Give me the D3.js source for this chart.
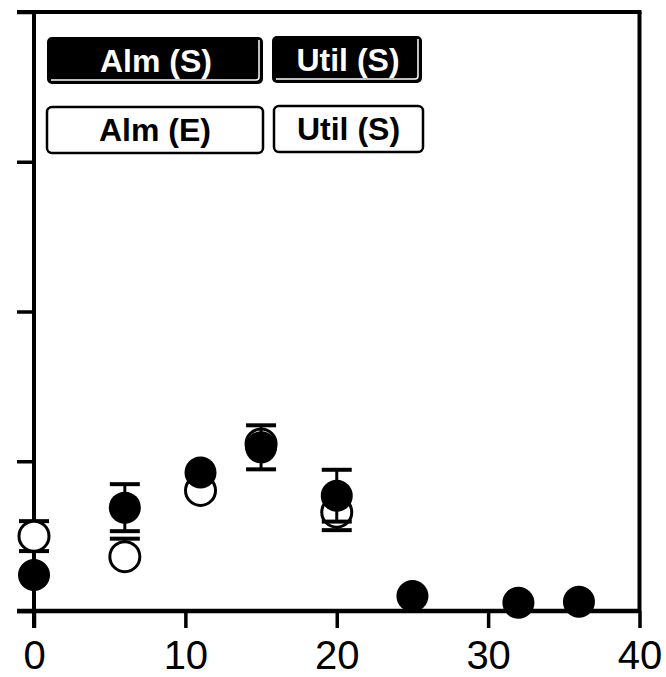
<!DOCTYPE html>
<html><head><meta charset="utf-8">
<script src="https://cdn.jsdelivr.net/npm/d3@7"></script>
<style>html,body{margin:0;padding:0;background:#fff;}svg{display:block;}</style>
</head><body>
<svg id="c" width="666" height="677"></svg>
<script>
// ---- data ----
const xTicks = [0, 10, 20, 30, 40];
const yTicks = [0, 1, 2, 3, 4];
const filledX       = [0, 6, 11, 15, 20, 25, 32, 36];
const filledY       = [0.24, 0.69, 0.925, 1.093, 0.77, 0.10, 0.055, 0.062];
const filledErrUp   = [0, 0.157, 0, 0.147, 0.173, 0, 0, 0];
const filledErrDown = [0, 0.157, 0, 0.147, 0.173, 0, 0, 0];
const openX       = [0, 6, 11, 15, 20];
const openY       = [0.50, 0.363, 0.805, 1.115, 0.66];
const openErrUp   = [0.1, 0.12, 0, 0, 0.12];
const openErrDown = [0.1, 0, 0, 0, 0.12];
const legendRow1 = ["Alm (S)", "Util (S)"];
const legendRow2 = ["Alm (E)", "Util (S)"];

const svg = d3.select("#c");
const x = d3.scaleLinear().domain([0, 40]).range([34, 639.5]);
const y = d3.scaleLinear().domain([0, 4]).range([611, 12]);
const FONT = "'Liberation Sans', Arial, Helvetica, sans-serif";

// frame (top & right)
svg.append("line").attr("x1", 17).attr("x2", x(40) + 2).attr("y1", y(4)).attr("y2", y(4))
  .attr("stroke", "#000").attr("stroke-width", 4);
svg.append("line").attr("x1", x(40)).attr("x2", x(40)).attr("y1", y(4)).attr("y2", y(0))
  .attr("stroke", "#000").attr("stroke-width", 4);

// axes
const gx = svg.append("g").attr("transform", `translate(0,${y(0)})`)
  .call(d3.axisBottom(x).tickValues(xTicks).tickSize(17).tickSizeOuter(0));
gx.select(".domain").attr("stroke-width", 4.5).attr("d", `M17,0H${x(40)}`);
gx.selectAll(".tick line").attr("stroke-width", 3.5);
gx.selectAll(".tick text").attr("font-family", FONT).attr("font-size", 40).attr("fill", "#000")
  .attr("dy", 0).attr("y", 57.5);

const gy = svg.append("g").attr("transform", `translate(${x(0)},0)`)
  .call(d3.axisLeft(y).tickValues(yTicks).tickSize(17).tickSizeOuter(0).tickFormat(""));
gy.select(".domain").attr("stroke-width", 4).attr("d", `M0,${y(4)}V${y(0) + 17}`);
gy.selectAll(".tick line").attr("stroke-width", 3.5);

// error bars + symbols
const capW = 30;
function errBars(xs, ys, up, down) {
  const g = svg.append("g").attr("stroke", "#000");
  xs.forEach((xv, i) => {
    const cx = x(xv), yc = y(ys[i]);
    if (up[i]) {
      const yy = y(ys[i] + up[i]);
      g.append("line").attr("x1", cx).attr("x2", cx).attr("y1", yc).attr("y2", yy).attr("stroke-width", 3);
      g.append("line").attr("x1", cx - capW / 2).attr("x2", cx + capW / 2).attr("y1", yy).attr("y2", yy).attr("stroke-width", 4);
    }
    if (down[i]) {
      const yy = y(ys[i] - down[i]);
      g.append("line").attr("x1", cx).attr("x2", cx).attr("y1", yc).attr("y2", yy).attr("stroke-width", 3);
      g.append("line").attr("x1", cx - capW / 2).attr("x2", cx + capW / 2).attr("y1", yy).attr("y2", yy).attr("stroke-width", 4);
    }
  });
}
// open series
errBars(openX, openY, openErrUp, openErrDown);
svg.append("g").selectAll("circle").data(openX).join("circle")
  .attr("cx", d => x(d)).attr("cy", (d, i) => y(openY[i])).attr("r", 15)
  .attr("fill", "#fff").attr("stroke", "#000").attr("stroke-width", 3);
// filled series
errBars(filledX, filledY, filledErrUp, filledErrDown);
svg.append("g").selectAll("circle").data(filledX).join("circle")
  .attr("cx", d => x(d)).attr("cy", (d, i) => y(filledY[i])).attr("r", 16)
  .attr("fill", "#000");

// legend
const boxes = [
  {x: 47, y: 37, w: 216, h: 47},
  {x: 272, y: 36, w: 150, h: 47}
];
const boxes2 = [
  {x: 47, y: 107, w: 216, h: 46},
  {x: 274, y: 106, w: 149, h: 46}
];
legendRow1.forEach((t, i) => {
  const b = boxes[i];
  svg.append("rect").attr("x", b.x).attr("y", b.y).attr("width", b.w).attr("height", b.h)
    .attr("rx", 5).attr("fill", "#000");
  svg.append("path")
    .attr("d", `M${b.x + b.w - 4},${b.y + 3}V${b.y + b.h - 7}q0,3 -3,3H${b.x + 4}`)
    .attr("fill", "none").attr("stroke", "#fff").attr("stroke-width", 1.5);
  svg.append("text").attr("x", b.x + b.w / 2 + 1).attr("y", b.y + 35)
    .attr("text-anchor", "middle").attr("font-family", FONT).attr("font-weight", "bold")
    .attr("font-size", 32).attr("fill", "#fff").text(t);
});
legendRow2.forEach((t, i) => {
  const b = boxes2[i];
  svg.append("rect").attr("x", b.x).attr("y", b.y).attr("width", b.w).attr("height", b.h)
    .attr("rx", 5).attr("fill", "#fff").attr("stroke", "#000").attr("stroke-width", 2.5);
  svg.append("text").attr("x", b.x + b.w / 2).attr("y", b.y + 34)
    .attr("text-anchor", "middle").attr("font-family", FONT).attr("font-weight", "bold")
    .attr("font-size", 32).attr("fill", "#000").text(t);
});
</script>
</body></html>
